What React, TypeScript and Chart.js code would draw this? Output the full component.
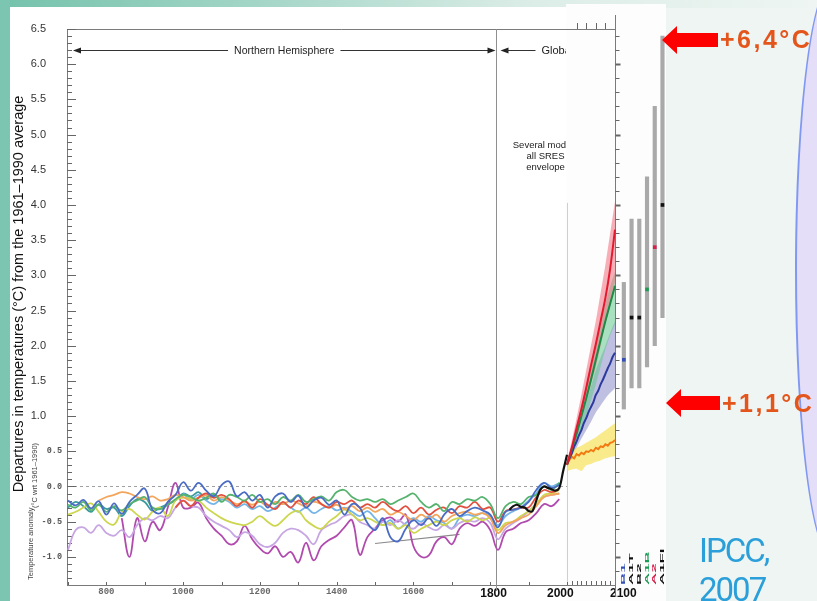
import React, { useEffect, useRef } from 'react';
import { Chart, registerables, LinearScale } from 'chart.js';

Chart.register(...registerables);

// ---------------- data ----------------
const reconYears = [700, 720, 740, 760, 780, 800, 820, 840, 860, 880, 900, 920, 940, 960, 980, 1000, 1020, 1040, 1060, 1080, 1100, 1120, 1140, 1160, 1180, 1200, 1220, 1240, 1260, 1280, 1300, 1320, 1340, 1360, 1380, 1400, 1420, 1440, 1460, 1480, 1500, 1520, 1540, 1560, 1580, 1600, 1620, 1640, 1660, 1680, 1700, 1720, 1740, 1760, 1780, 1800, 1820, 1840, 1860, 1880, 1900, 1920, 1940, 1960, 1980];

const blueRecon = [-0.20, -0.27, -0.19, -0.31, -0.21, -0.40, -0.24, -0.39, -0.22, -0.12,
  -0.03, -0.33, -0.38, -0.22, -0.12, 0.06, -0.06, 0.05, -0.06, -0.14,
  0.02, 0.07, -0.14, -0.08, -0.20, -0.12, -0.30, -0.14, -0.10, -0.22,
  -0.13, -0.30, -0.20, -0.16, -0.26, -0.20, -0.40, -0.25, -0.30, -0.52,
  -0.62, -0.45, -0.72, -0.78, -0.60, -0.48, -0.55, -0.45, -0.56, -0.40,
  -0.32, -0.42, -0.35, -0.30, -0.34, -0.40, -0.58, -0.36, -0.33, -0.30,
  -0.22, -0.05, 0.05, -0.02, 0.02];

const greenRecon = [-0.26, -0.30, -0.22, -0.34, -0.26, -0.36, -0.28, -0.34, -0.25, -0.20,
  -0.15, -0.30, -0.32, -0.26, -0.18, -0.12, -0.15, -0.20, -0.16, -0.10,
  -0.22, -0.12, -0.15, -0.20, -0.12, -0.22, -0.18, -0.25, -0.15, -0.20,
  -0.12, -0.22, -0.18, -0.14, -0.20, -0.08, -0.05, -0.15, -0.20, -0.18,
  -0.22, -0.18, -0.25, -0.20, -0.15, -0.10, -0.22, -0.30, -0.25, -0.35,
  -0.22, -0.25, -0.18, -0.20, -0.15, -0.25, -0.45, -0.28, -0.22, -0.25,
  -0.15, -0.12, 0.00, -0.05, 0.05];

const redStart = 980;
const redRecon = [-0.30, -0.20, -0.28, -0.16, -0.10, -0.16,
  -0.12, -0.18, -0.28, -0.20, -0.30, -0.18, -0.26, -0.32, -0.22, -0.30,
  -0.20, -0.25, -0.15, -0.25, -0.30, -0.22, -0.25, -0.20, -0.30, -0.25,
  -0.30, -0.22, -0.30, -0.35, -0.28, -0.38, -0.30, -0.40, -0.33, -0.30,
  -0.38, -0.28, -0.30, -0.22, -0.32, -0.30, -0.50, -0.35, -0.33, -0.30,
  -0.30, -0.15, -0.05, -0.08, -0.03];

const orangeStart = 780;
const orangeRecon = [-0.20, -0.15, -0.12, -0.08, -0.10, -0.15,
  -0.18, -0.14, -0.20, -0.18, -0.12, -0.15, -0.20, -0.16, -0.13, -0.20,
  -0.15, -0.20, -0.25, -0.22, -0.26, -0.22, -0.28, -0.22, -0.25, -0.20,
  -0.24, -0.28, -0.22, -0.25, -0.30, -0.26, -0.32, -0.28, -0.35, -0.30,
  -0.36, -0.32, -0.40, -0.36, -0.42, -0.48, -0.40, -0.46, -0.40, -0.50,
  -0.42, -0.38, -0.36, -0.40, -0.38, -0.45, -0.66, -0.55, -0.50, -0.45,
  -0.40, -0.28, -0.15, -0.12, -0.10];

const yellowRecon = [-0.40, -0.36, -0.30, -0.24, -0.36, -0.50, -0.54, -0.36, -0.32, -0.40,
  -0.47, -0.36, -0.30, -0.42, -0.20, -0.16, -0.17, -0.20, -0.30, -0.38,
  -0.45, -0.50, -0.53, -0.55, -0.50, -0.42, -0.50, -0.56, -0.48, -0.38,
  -0.35, -0.48, -0.56, -0.60, -0.50, -0.42, -0.33, -0.40, -0.48, -0.45,
  -0.50, -0.55, -0.52, -0.60, -0.55, -0.66, -0.60, -0.55, -0.50, -0.55,
  -0.48, -0.45, -0.50, -0.44, -0.48, -0.45, -0.62, -0.52, -0.50, -0.42,
  -0.35, -0.25, -0.12, -0.10, -0.05];

const lavenderRecon = [-0.90, -0.62, -0.58, -0.66, -0.55, -0.66, -0.70, -0.62, -0.72, -0.55,
  -0.45, -0.48, -0.42, -0.45, -0.30, -0.20, -0.28, -0.30, -0.42, -0.50,
  -0.56, -0.62, -0.72, -0.65, -0.70, -0.82, -0.86, -0.80, -0.66, -0.60,
  -0.62, -0.70, -0.82, -0.62, -0.55, -0.50, -0.42, -0.40, -0.50, -0.55,
  -0.60, -0.50, -0.55, -0.48, -0.55, -0.60, -0.52, -0.58, -0.62, -0.55,
  -0.60, -0.52, -0.48, -0.50, -0.45, -0.52, -0.75, -0.60, -0.52, -0.45,
  -0.35, -0.25, -0.15, -0.12, -0.10];

const magentaStart = 840;
const magentaRecon = [-0.45, -1.00, -0.45,
  -0.78, -0.50, -0.62, -0.30, 0.05, -0.30, -0.30, -0.23, -0.45, -0.60,
  -0.70, -0.82, -0.78, -0.56, -0.75, -0.88, -0.95, -0.85, -1.00, -0.93,
  -1.08, -0.80, -1.05, -0.85, -0.76, -0.70, -0.58, -0.48, -0.97, -0.72,
  -0.60, -0.48, -0.44, -0.50, -0.40, -0.85, -1.00, -0.98, -0.78, -0.72,
  -0.82, -0.60, -0.52, -0.56, -0.50, -0.62, -0.90, -0.65, -0.60, -0.52,
  -0.48, -0.38, -0.25, -0.28, -0.18];

const lightBlueStart = 1000;
const lightBlueRecon = [-0.10, -0.18, -0.12, -0.20, -0.25,
  -0.18, -0.22, -0.30, -0.25, -0.32, -0.28, -0.35, -0.30, -0.24, -0.30,
  -0.36, -0.30, -0.38, -0.32, -0.28, -0.34, -0.30, -0.36, -0.42, -0.35,
  -0.45, -0.55, -0.48, -0.60, -0.52, -0.45, -0.50, -0.42, -0.48, -0.52,
  -0.60, -0.45, -0.40, -0.42, -0.38, -0.42, -0.55, -0.42, -0.35, -0.30,
  -0.20, -0.10, 0.05, 0.00, 0.05];

const tealStart = 700;
const tealRecon = [-0.30, -0.22, -0.28, -0.36, -0.25, -0.32, -0.30, -0.42, -0.28, -0.18,
  -0.22, -0.35, -0.30, -0.25, -0.20, -0.10, -0.14, -0.08, -0.18, -0.12, -0.20];

const trendYears = [1500, 1720];
const trendValues = [-0.81, -0.68];

const instrumentalYears = [1850, 1860, 1870, 1880, 1890, 1900, 1910, 1920, 1930, 1940, 1950, 1960, 1970, 1980, 1990, 2000];
const instrumentalValues = [-0.33, -0.28, -0.26, -0.29, -0.30, -0.35, -0.35, -0.20, -0.05, 0.00, -0.02, -0.04, -0.06, -0.02, 0.22, 0.45];

const projYears = [2000, 2010, 2020, 2030, 2040, 2050, 2060, 2070, 2080, 2090, 2100];
const projYears5 = [2000, 2005, 2010, 2015, 2020, 2025, 2030, 2035, 2040, 2045, 2050, 2055, 2060, 2065, 2070, 2075, 2080, 2085, 2090, 2095, 2100];

const a2Mean = [0.31, 0.55, 0.83, 1.10, 1.40, 1.72, 2.02, 2.35, 2.68, 3.10, 3.65];
const a2High = [0.35, 0.65, 0.97, 1.30, 1.65, 2.00, 2.35, 2.75, 3.15, 3.60, 4.05];
const a2Low = [0.28, 0.48, 0.70, 0.95, 1.20, 1.45, 1.70, 2.00, 2.30, 2.60, 2.90];

const a1bMean = [0.31, 0.53, 0.75, 1.00, 1.25, 1.52, 1.80, 2.08, 2.35, 2.60, 2.85];
const a1bHigh = [0.33, 0.58, 0.85, 1.15, 1.45, 1.75, 2.05, 2.35, 2.60, 2.85, 3.05];
const a1bLow = [0.28, 0.45, 0.60, 0.80, 1.00, 1.22, 1.45, 1.70, 1.95, 2.15, 2.30];

const b1Mean = [0.31, 0.40, 0.47, 0.57, 0.64, 0.73, 0.80, 0.90, 0.97, 1.06, 1.13, 1.20, 1.30, 1.36, 1.45, 1.52, 1.60, 1.68, 1.75, 1.84, 1.90];
const b1High = [0.33, 0.55, 0.75, 0.98, 1.20, 1.42, 1.65, 1.83, 2.00, 2.18, 2.35];
const b1Low = [0.28, 0.42, 0.55, 0.68, 0.80, 0.92, 1.05, 1.15, 1.25, 1.33, 1.40];

const commitMean = [0.31, 0.38, 0.42, 0.40, 0.46, 0.44, 0.48, 0.46, 0.50, 0.49, 0.52, 0.50, 0.55, 0.53, 0.57, 0.56, 0.60, 0.58, 0.62, 0.63, 0.66];
const commitHigh = [0.36, 0.48, 0.55, 0.58, 0.62, 0.66, 0.70, 0.75, 0.80, 0.85, 0.90];
const commitLow = [0.22, 0.24, 0.25, 0.22, 0.30, 0.32, 0.35, 0.37, 0.40, 0.42, 0.43];

const scenarioNames = ['B1', 'A1T', 'B2', 'A1B', 'A2', 'A1FI'];
const scenarioLow = [1.1, 1.4, 1.4, 1.7, 2.0, 2.4];
const scenarioBest = [1.8, 2.4, 2.4, 2.8, 3.4, 4.0];
const scenarioHigh = [2.9, 3.8, 3.8, 4.4, 5.4, 6.4];
const scenarioColors = ['#3550b5', '#111111', '#111111', '#1f9a55', '#d8204a', '#111111'];

const xTickValues = [800, 1000, 1200, 1400, 1600, 1800, 2000, 2100];
const upperTickValues = [6.5, 6.0, 5.5, 5.0, 4.5, 4.0, 3.5, 3.0, 2.5, 2.0, 1.5, 1.0];
const lowerTickValues = [0.5, 0.0, -0.5, -1.0];

const DIVIDER_YEAR = 1815;
const Y_MIN = -1.4;
const Y_MAX = 6.5;

// ---------------- piecewise time axis ----------------
// [axis value, pixel offset from the left of the plot area]
const X_BREAKS: [number, number][] = [[700, 1], [2000, 500], [2100, 548], [2220, 601]];
const X_SPAN = 601;

function offsetFor(v: number) {
  for (let i = 1; i < X_BREAKS.length; i++) {
    const [v0, p0] = X_BREAKS[i - 1];
    const [v1, p1] = X_BREAKS[i];
    if (v <= v1 || i === X_BREAKS.length - 1) return p0 + ((v - v0) * (p1 - p0)) / (v1 - v0);
  }
  return 0;
}
function valueFor(p: number) {
  for (let i = 1; i < X_BREAKS.length; i++) {
    const [v0, p0] = X_BREAKS[i - 1];
    const [v1, p1] = X_BREAKS[i];
    if (p <= p1 || i === X_BREAKS.length - 1) return v0 + ((p - p0) * (v1 - v0)) / (p1 - p0);
  }
  return 0;
}

class PiecewiseScale extends LinearScale {
  static id = 'piecewise';
  static defaults = {};
  getPixelForValue(value: number) {
    if (value === null || value === undefined || isNaN(value)) return NaN;
    return this.left + (offsetFor(value) * this.width) / X_SPAN;
  }
  getValueForPixel(pixel: number) {
    return valueFor(((pixel - this.left) * X_SPAN) / this.width);
  }
}
Chart.register(PiecewiseScale);

// ---------------- helpers ----------------
const pts = (years: number[], vals: number[]) => vals.map((y, i) => ({ x: years[i], y }));
const fromYear = (start: number, vals: number[]) => {
  const i0 = reconYears.indexOf(start);
  return vals.map((y, i) => ({ x: reconYears[i0 + i], y }));
};
const scenarioSlot = (i: number) => 2120 + i * 17.5;

// the bold year labels sit slightly off their ticks in the original figure
const tickLabel = (v: number) => {
  if (v === 1800) return '  1800';
  if (v === 2000) return '2000    ';
  if (v === 2100) return '     2100';
  return String(v);
};

function seg(ctx: CanvasRenderingContext2D, x1: number, y1: number, x2: number, y2: number) {
  ctx.beginPath();
  ctx.moveTo(x1, y1);
  ctx.lineTo(x2, y2);
  ctx.stroke();
}
function head(ctx: CanvasRenderingContext2D, tipX: number, y: number, dir: number) {
  ctx.beginPath();
  ctx.moveTo(tipX, y);
  ctx.lineTo(tipX + dir * 8, y - 3);
  ctx.lineTo(tipX + dir * 8, y + 3);
  ctx.closePath();
  ctx.fill();
}

const decorPlugin = {
  id: 'decor',
  beforeDatasetsDraw(chart: any) {
    const { ctx, chartArea } = chart;
    const xs = chart.scales.x;
    const ys = chart.scales.y;
    const { left, top, bottom } = chartArea;
    const X = (v: number) => xs.getPixelForValue(v);
    const Y = (v: number) => ys.getPixelForValue(v);
    const r = (p: number) => Math.round(p) + 0.5;
    const x2000 = r(X(2000));
    const x2100 = r(X(2100));
    const xDiv = r(X(DIVIDER_YEAR));

    ctx.save();
    ctx.lineWidth = 1;
    // zero reference
    ctx.strokeStyle = '#a0a0a0';
    ctx.setLineDash([3, 3]);
    seg(ctx, X(700), r(Y(0)), X(2000), r(Y(0)));
    ctx.setLineDash([]);
    // frame
    ctx.strokeStyle = '#7a7a7a';
    seg(ctx, left, top + 0.5, x2100, top + 0.5);
    seg(ctx, left + 0.5, top, left + 0.5, bottom);
    seg(ctx, left, bottom + 0.5, x2100, bottom + 0.5);
    seg(ctx, x2100, top - 14, x2100, bottom + 12);
    ctx.strokeStyle = '#8f8f8f';
    seg(ctx, xDiv, top, xDiv, bottom + 6);
    ctx.strokeStyle = '#cfcfcf';
    seg(ctx, x2000, Y(4.03), x2000, bottom);
    // inner ticks on left axis
    ctx.strokeStyle = '#666';
    for (let k = -13; k <= 65; k++) {
      const yy = r(Y(k / 10));
      seg(ctx, left, yy, left + (k % 5 === 0 ? 9 : 5), yy);
    }
    // ticks on the 2100 axis
    for (let k = -6; k <= 32; k++) {
      const yy = r(Y(k * 0.2));
      const major = k % 5 === 0;
      ctx.lineWidth = major ? 2 : 1;
      seg(ctx, x2100, yy, x2100 + (major ? 5 : 4), yy);
    }
    ctx.lineWidth = 1;
    for (const yr of [2020, 2040, 2060, 2080]) seg(ctx, r(X(yr)), top, r(X(yr)), top - 6);
    for (let yr = 700; yr <= 2000; yr += 100) seg(ctx, r(X(yr)), bottom, r(X(yr)), bottom - 3);
    for (let yr = 2010; yr < 2100; yr += 10) seg(ctx, r(X(yr)), bottom, r(X(yr)), bottom - 4);

    // tick labels of the lower (inset) panel
    ctx.fillStyle = '#555';
    ctx.font = 'bold 8.5px "Liberation Mono", monospace';
    ctx.textAlign = 'right';
    ctx.textBaseline = 'middle';
    for (const v of lowerTickValues) ctx.fillText(v.toFixed(1), left - 5, Y(v));

    // period annotations
    const ay = r(Y(6.2));
    ctx.strokeStyle = '#333';
    ctx.fillStyle = '#222';
    ctx.font = '10.5px "Liberation Sans", Arial, sans-serif';
    ctx.textBaseline = 'middle';
    ctx.textAlign = 'center';
    const nhL = X(700) + 5;
    const nhR = xDiv - 1;
    const label = 'Northern Hemisphere';
    const w = ctx.measureText(label).width;
    const mid = (nhL + nhR) / 2;
    ctx.fillText(label, mid, ay + 0.5);
    seg(ctx, nhL + 6, ay, mid - w / 2 - 6, ay);
    seg(ctx, mid + w / 2 + 6, ay, nhR - 6, ay);
    head(ctx, nhL, ay, 1);
    head(ctx, nhR, ay, -1);

    ctx.save();
    ctx.beginPath();
    ctx.rect(0, 0, x2000 - 1.5, chart.height);
    ctx.clip();
    head(ctx, xDiv + 4, ay, 1);
    seg(ctx, xDiv + 10, ay, xDiv + 39, ay);
    ctx.textAlign = 'left';
    ctx.font = '11px "Liberation Sans", Arial, sans-serif';
    ctx.fillText('Global', xDiv + 45, ay + 0.5);
    ctx.font = '9.5px "Liberation Sans", Arial, sans-serif';
    ctx.textAlign = 'center';
    ctx.textBaseline = 'alphabetic';
    const cx = x2000 - 22;
    ctx.fillText('Several models', cx, Y(4.81));
    ctx.fillText('all SRES', cx, Y(4.65));
    ctx.fillText('envelope', cx, Y(4.49));
    ctx.restore();

    // axis titles
    ctx.save();
    ctx.fillStyle = '#111';
    ctx.font = '14.5px "Liberation Sans", Arial, sans-serif';
    ctx.translate(23, 294);
    ctx.rotate(-Math.PI / 2);
    ctx.textAlign = 'center';
    ctx.textBaseline = 'alphabetic';
    ctx.fillText('Departures in temperatures (\u00B0C) from the 1961\u20131990 average', 0, 0);
    ctx.restore();

    ctx.save();
    ctx.fillStyle = '#444';
    ctx.font = '7.5px "Liberation Sans", Arial, sans-serif';
    ctx.textAlign = 'left';
    ctx.textBaseline = 'alphabetic';
    ctx.translate(33, 580);
    ctx.rotate(-Math.PI / 2);
    ctx.fillText('Temperature anomaly', 0, 0);
    ctx.restore();
    ctx.save();
    ctx.fillStyle = '#444';
    ctx.font = '7.5px "Liberation Sans", Arial, sans-serif';
    ctx.textAlign = 'left';
    ctx.textBaseline = 'alphabetic';
    ctx.translate(37, 508);
    ctx.rotate(-Math.PI / 2);
    ctx.fillText('(\u00B0C wrt 1961\u20131990)', 0, 0);
    ctx.restore();

    ctx.restore();
  },
  afterDatasetsDraw(chart: any) {
    const { ctx } = chart;
    const xs = chart.scales.x;
    ctx.save();
    ctx.font = 'bold 6px "Liberation Sans", Arial, sans-serif';
    scenarioNames.forEach((name, i) => {
      const x = xs.getPixelForValue(scenarioSlot(i));
      ctx.save();
      ctx.translate(x, 585);
      ctx.rotate(-Math.PI / 2);
      ctx.scale(2.8, 1);
      ctx.fillStyle = scenarioColors[i];
      ctx.textAlign = 'left';
      ctx.textBaseline = 'middle';
      ctx.fillText(name, 0, 0);
      ctx.restore();
    });
    ctx.restore();
  },
};

const recon = (label: string, data: any[], color: string) => ({
  type: 'line',
  label,
  data,
  borderColor: color,
  borderWidth: 1.8,
  pointRadius: 0,
  tension: 0.4,
  fill: false,
  order: 3,
});
const band = (label: string, data: any[], color: string, fill: any, order: number) => ({
  type: 'line',
  label,
  data,
  borderWidth: 0,
  borderColor: 'transparent',
  backgroundColor: color,
  pointRadius: 0,
  tension: 0.3,
  fill,
  order,
});
const proj = (label: string, data: any[], color: string, tension: number) => ({
  type: 'line',
  label,
  data,
  borderColor: color,
  borderWidth: 2,
  pointRadius: 0,
  tension,
  fill: false,
  order: 0,
});

export default function App() {
  const ref = useRef<HTMLCanvasElement>(null);

  useEffect(() => {
    const datasets: any[] = [
      { ...proj('Observed', pts(instrumentalYears, instrumentalValues), '#111111', 0.3), borderWidth: 2.2, order: 1 },
      proj('A2', pts(projYears, a2Mean), '#e3192f', 0.3),
      proj('A1B', pts(projYears, a1bMean), '#1d8a45', 0.3),
      proj('B1', pts(projYears5, b1Mean), '#2b3a9c', 0.2),
      proj('Constant composition', pts(projYears5, commitMean), '#f27a12', 0),
      band('A2 high', pts(projYears, a2High), 'rgba(240,110,125,0.55)', '+1', 5),
      band('A2 low', pts(projYears, a2Low), 'transparent', false, 5),
      band('A1B high', pts(projYears, a1bHigh), 'rgba(100,200,140,0.55)', '+1', 6),
      band('A1B low', pts(projYears, a1bLow), 'transparent', false, 6),
      band('B1 high', pts(projYears, b1High), 'rgba(130,130,200,0.5)', '+1', 7),
      band('B1 low', pts(projYears, b1Low), 'transparent', false, 7),
      band('Commit high', pts(projYears, commitHigh), 'rgba(246,226,90,0.7)', '+1', 5),
      band('Commit low', pts(projYears, commitLow), 'transparent', false, 5),
      recon('Blue', pts(reconYears, blueRecon), '#4a6cc4'),
      recon('Green', pts(reconYears, greenRecon), '#55b36e'),
      recon('Red', fromYear(redStart, redRecon), '#e2503f'),
      recon('Orange', fromYear(orangeStart, orangeRecon), '#f3a55c'),
      recon('Yellow', pts(reconYears, yellowRecon), '#cdd64f'),
      recon('Lavender', pts(reconYears, lavenderRecon), '#c7a6e3'),
      recon('Magenta', fromYear(magentaStart, magentaRecon), '#b14aae'),
      recon('Light blue', fromYear(lightBlueStart, lightBlueRecon), '#74b4e6'),
      recon('Teal', fromYear(tealStart, tealRecon), '#3a9a9e'),
      { ...recon('Trend', pts(trendYears, trendValues), '#8a8a8a'), borderWidth: 1.2, tension: 0 },
      {
        type: 'bar',
        label: 'Likely range',
        data: scenarioNames.map((_, i) => ({ x: scenarioSlot(i), y: [scenarioLow[i], scenarioHigh[i]] })),
        backgroundColor: '#a9a9a9',
        borderWidth: 0,
        barThickness: 3.5,
        grouped: false,
        order: 2,
      },
      {
        type: 'scatter',
        label: 'Best estimate',
        data: scenarioNames.map((_, i) => ({ x: scenarioSlot(i), y: scenarioBest[i] })),
        pointStyle: 'rect',
        pointRadius: 2.6,
        pointBackgroundColor: scenarioColors,
        pointBorderWidth: 0,
        order: 0,
      },
    ];

    const chart = new Chart(ref.current as HTMLCanvasElement, {
      type: 'line',
      data: { datasets },
      options: {
        responsive: false,
        animation: false,
        events: [],
        layout: { autoPadding: false, padding: { left: 0, right: 149, top: 29, bottom: 0 } },
        plugins: { legend: { display: false }, tooltip: { enabled: false } },
        scales: {
          x: {
            type: 'piecewise' as any,
            min: 700,
            max: 2220,
            grid: { display: false, drawTicks: false },
            border: { display: false },
            afterBuildTicks: (s: any) => {
              s.ticks = xTickValues.map((value) => ({ value }));
            },
            afterFit: (s: any) => {
              s.height = 16;
              s.paddingLeft = 0;
              s.paddingRight = 0;
            },
            ticks: {
              autoSkip: false,
              maxRotation: 0,
              padding: 1,
              callback: (v: any) => tickLabel(Number(v)),
              font: (c: any) =>
                c.tick && c.tick.value >= 1800
                  ? { family: '"Liberation Sans", Arial, sans-serif', size: 12, weight: 'bold' }
                  : { family: '"Liberation Mono", monospace', size: 9, weight: 'bold' },
              color: (c: any) => (c.tick && c.tick.value >= 1800 ? '#111' : '#6a6a6a'),
            },
          },
          y: {
            position: 'left',
            min: Y_MIN,
            max: Y_MAX,
            grid: { display: false, drawTicks: false },
            border: { display: false },
            afterFit: (s: any) => {
              s.width = 67;
              s.paddingTop = 0;
              s.paddingBottom = 0;
            },
            afterBuildTicks: (s: any) => {
              s.ticks = upperTickValues.map((value) => ({ value }));
            },
            ticks: {
              autoSkip: false,
              padding: 21,
              color: '#333',
              font: { family: '"Liberation Sans", Arial, sans-serif', size: 11 },
              callback: (v: any) => Number(v).toFixed(1),
            },
          },
        },
      } as any,
      plugins: [decorPlugin],
    } as any);
    return () => chart.destroy();
  }, []);

  const arrowClip = 'polygon(0 50%, 15px 0, 15px 25%, 100% 25%, 100% 75%, 15px 75%, 15px 100%)';
  const bigText: React.CSSProperties = {
    position: 'absolute',
    color: '#e4551b',
    fontFamily: '"Liberation Sans", Arial, sans-serif',
    fontWeight: 'bold',
    fontSize: 25,
    lineHeight: '25px',
    letterSpacing: '2.5px',
    whiteSpace: 'nowrap',
  };

  return (
    <div style={{ position: 'fixed', left: 0, top: 0, width: 817, height: 601, overflow: 'hidden', background: '#eef5f2' }}>
      <div style={{ position: 'absolute', left: 0, top: 0, width: 817, height: 8, background: 'linear-gradient(to right, #74c2ab, #a9d8ca 35%, #dcede7 65%, #eef5f2)' }} />
      <div style={{ position: 'absolute', left: 0, top: 0, width: 10, height: 601, background: '#7cc6b1' }} />
      <div style={{ position: 'absolute', left: 10, top: 7, width: 556, height: 594, background: '#ffffff' }} />
      <div style={{ position: 'absolute', left: 566, top: 4, width: 100, height: 597, background: '#fdfdfd' }} />
      <div style={{ position: 'absolute', left: 795, top: -20, width: 76, height: 580, borderRadius: '50%', background: '#e4def8', border: '2px solid #8098f2', boxSizing: 'border-box' }} />
      <canvas ref={ref} width={817} height={601} style={{ position: 'absolute', left: 0, top: 0, width: 817, height: 601 }} />
      <div style={{ position: 'absolute', left: 662, top: 26, width: 56, height: 28, background: '#ff0000', clipPath: arrowClip }} />
      <div style={{ ...bigText, left: 720, top: 27 }}>+6,4°C</div>
      <div style={{ position: 'absolute', left: 666, top: 389, width: 54, height: 28, background: '#ff0000', clipPath: arrowClip }} />
      <div style={{ ...bigText, left: 722, top: 391 }}>+1,1°C</div>
      <div style={{ position: 'absolute', left: 699, top: 531, color: '#2b9fd9', fontFamily: 'Roboto, "Open Sans", sans-serif', fontWeight: 400, fontSize: 33, lineHeight: '39px', letterSpacing: '-2px', whiteSpace: 'nowrap' }}>
        IPCC,
        <br />
        2007
      </div>
    </div>
  );
}
